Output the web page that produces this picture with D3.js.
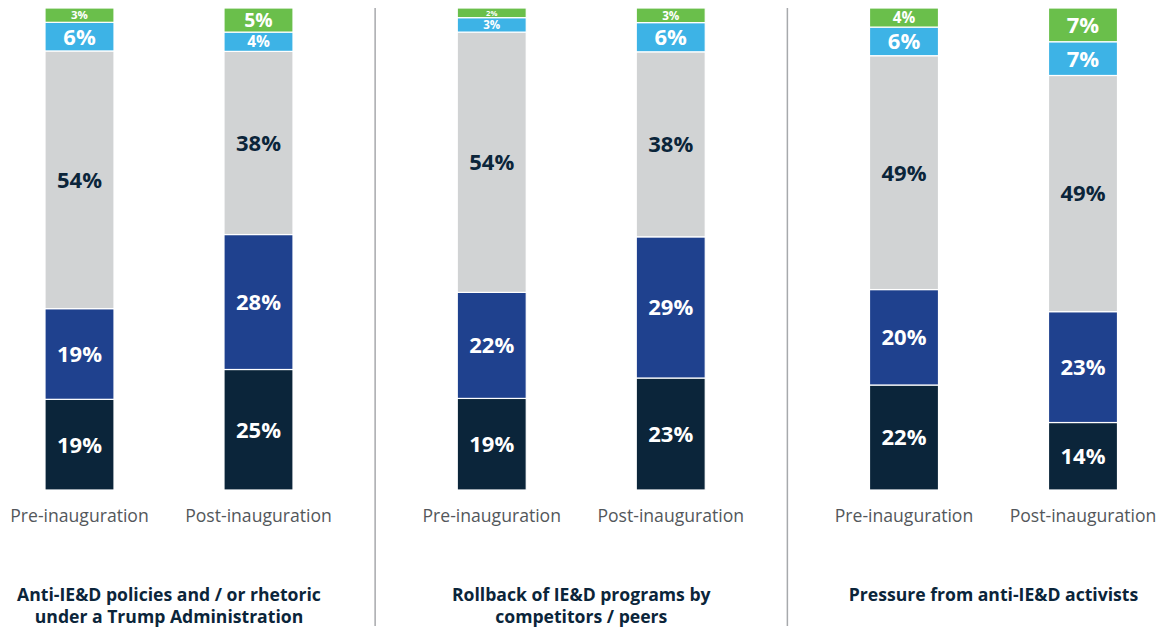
<!DOCTYPE html>
<html>
<head>
<meta charset="utf-8">
<script src="https://cdn.jsdelivr.net/npm/d3@7/dist/d3.min.js"></script>
<style>
  html, body { margin: 0; padding: 0; background: #ffffff; }
  svg { display: block; }
</style>
</head>
<body>
<svg id="chart" width="1164" height="632"></svg>
<script>
// Survey panels and the two time points compared in each
const panels = [
  ["Anti-IE&D policies and / or rhetoric", "under a Trump Administration"],
  ["Rollback of IE&D programs by", "competitors / peers"],
  ["Pressure from anti-IE&D activists"]
];
const periods = ["Pre-inauguration", "Post-inauguration"];

// Response levels, stacked from the bottom up
const levels = ["l1", "l2", "l3", "l4", "l5"];
const levelColors = ["#0b253a", "#1f418e", "#d1d3d4", "#3db3e6", "#6abf4b"];
const labelColors = ["#ffffff", "#ffffff", "#0b253a", "#ffffff", "#ffffff"];

// Percentages per bar (panel, period), bottom to top
const policiesPre  = [19, 19, 54, 6, 3];
const policiesPost = [25, 28, 38, 4, 5];
const rollbackPre  = [19, 22, 54, 3, 2];
const rollbackPost = [23, 29, 38, 6, 3];
const pressurePre  = [22, 20, 49, 6, 4];
const pressurePost = [14, 23, 49, 7, 7];

const barValues = [
  [policiesPre, policiesPost],
  [rollbackPre, rollbackPost],
  [pressurePre, pressurePost]
];

const rows = [];
barValues.forEach((pair, pi) => pair.forEach((vals, ti) => {
  const row = { panel: pi, period: periods[ti] };
  levels.forEach((k, i) => row[k] = vals[i]);
  rows.push(row);
}));

const svg = d3.select("#chart");
const FONT = "'Open Sans', Lato, 'DejaVu Sans', sans-serif";

// Scales
const panelX = d3.scalePoint().domain([0, 1, 2]).range([169, 993.5]);
const periodX = d3.scaleBand().domain(periods).range([-124, 124])
  .paddingInner(0.6145).paddingOuter(0);
const y = d3.scaleLinear().domain([0, 1]).range([490, 8]);

// Each bar is shown as shares of its own total
const stack = d3.stack().keys(levels).offset(d3.stackOffsetExpand);
const series = stack(rows);

const barX = d => panelX(d.data.panel) + periodX(d.data.period);

// Segments
const layer = svg.append("g").selectAll("g")
  .data(series).join("g")
  .attr("fill", (s, i) => levelColors[i]);

layer.selectAll("rect")
  .data(s => s)
  .join("rect")
  .attr("x", barX)
  .attr("width", periodX.bandwidth())
  .attr("y", d => y(d[1]))
  .attr("height", d => y(d[0]) - y(d[1]))
  .attr("stroke", "#ffffff")
  .attr("stroke-width", 1.2);

// Value labels, shrunk to fit thin segments
const labels = svg.append("g")
  .attr("font-family", FONT)
  .attr("font-weight", 700)
  .attr("text-anchor", "middle");

series.forEach((s, i) => {
  labels.selectAll(null)
    .data(s)
    .join("text")
    .attr("x", d => barX(d) + periodX.bandwidth() / 2)
    .attr("y", d => (y(d[0]) + y(d[1])) / 2)
    .attr("dy", "0.36em")
    .attr("font-size", d => Math.min(22, (y(d[0]) - y(d[1])) * 0.8))
    .attr("fill", labelColors[i])
    .text(d => d.data[s.key] + "%");
});

// Period labels under each bar
svg.append("g")
  .attr("font-family", FONT)
  .attr("font-size", 17.6)
  .attr("fill", "#53575b")
  .attr("text-anchor", "middle")
  .selectAll("text")
  .data(rows)
  .join("text")
  .attr("x", d => panelX(d.panel) + periodX(d.period) + periodX.bandwidth() / 2)
  .attr("y", 522)
  .text(d => d.period);

// Panel titles
const titles = svg.append("g")
  .attr("font-family", FONT)
  .attr("font-weight", 700)
  .attr("font-size", 17.6)
  .attr("fill", "#0b253a")
  .attr("text-anchor", "middle");

panels.forEach((lines, pi) => {
  const t = titles.append("text").attr("x", panelX(pi)).attr("y", 601);
  lines.forEach((line, li) => {
    t.append("tspan").attr("x", panelX(pi)).attr("dy", li === 0 ? 0 : 22).text(line);
  });
});

// Dividers between panels
svg.append("g")
  .selectAll("line")
  .data([0.5, 1.5])
  .join("line")
  .attr("x1", d => (panelX(Math.floor(d)) + panelX(Math.ceil(d))) / 2)
  .attr("x2", d => (panelX(Math.floor(d)) + panelX(Math.ceil(d))) / 2)
  .attr("y1", 8)
  .attr("y2", 626)
  .attr("stroke", "#a7a9ac")
  .attr("stroke-width", 1.5);
</script>
</body>
</html>
